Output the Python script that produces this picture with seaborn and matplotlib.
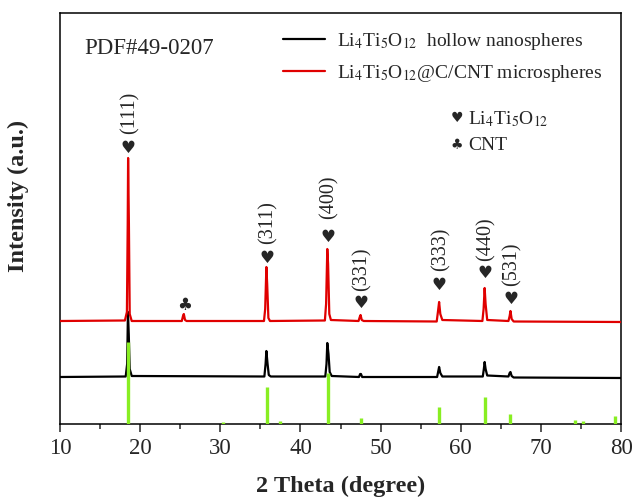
import pandas as pd
import matplotlib
matplotlib.use('Agg')
import matplotlib.pyplot as plt
import seaborn as sns

# XRD curves (2theta, intensity in arbitrary units)
red_x = [10.0, 18.1, 18.35, 18.45, 18.5, 18.6, 18.7, 18.95, 25.2, 25.35, 25.45, 25.6, 25.8,
         35.45, 35.6, 35.75, 35.85, 36.0, 36.2, 43.05, 43.2, 43.35, 43.45, 43.6, 43.8,
         47.25, 47.4, 47.5, 47.65, 47.9, 57.0, 57.15, 57.3, 57.45, 57.7,
         62.7, 62.85, 62.98, 63.1, 63.3, 65.95, 66.1, 66.2, 66.35, 66.6, 80.0]
red_y = [103, 103.5, 112, 200, 266, 200, 110, 103, 103, 108, 110, 104, 103,
         103, 115, 157, 140, 106, 103, 103.5, 120, 175, 160, 110, 104,
         103, 107, 109, 104, 103, 102.5, 112, 122, 110, 104,
         103, 115, 136, 120, 104, 103, 108, 113, 105, 102.5, 102]

black_x = [10.0, 18.2, 18.38, 18.48, 18.58, 18.7, 18.95, 35.5, 35.65, 35.75, 35.9, 36.05, 36.3,
           43.1, 43.25, 43.35, 43.5, 43.65, 43.9, 47.3, 47.45, 47.55, 47.7,
           57.05, 57.2, 57.3, 57.45, 57.7, 62.75, 62.88, 62.98, 63.1, 63.3,
           65.95, 66.1, 66.2, 66.35, 66.6, 80.0]
black_y = [47, 47.5, 60, 112, 90, 55, 48, 47.5, 60, 73, 60, 49, 47.5,
           47.5, 60, 81, 70, 52, 48, 47, 50, 50, 47,
           47, 53, 57, 51, 47.5, 47.5, 55, 62, 55, 48.5,
           47.5, 51, 52, 48, 46.5, 46]

# reference card PDF#49-0207
ref_pos = [18.5, 30.4, 35.8, 37.4, 43.4, 47.5, 57.3, 63.0, 66.2, 74.3, 75.3, 79.3]
ref_int = [82, 2, 37, 3, 51, 6, 17, 27, 10, 4, 3, 8]

hkl_labels = ['(111)', '(311)', '(400)', '(331)', '(333)', '(440)', '(531)']
hkl_pos = [18.5, 35.8, 43.4, 47.5, 57.3, 63.0, 66.2]
heart_y = [276, 166, 187, 121, 139, 151, 125]
label_y = [311, 201, 227, 155, 175, 185, 160]

sns.set_style('ticks')
plt.rcParams['font.family'] = ['Liberation Serif', 'DejaVu Sans']
plt.rcParams['mathtext.fontset'] = 'stix'

fig = plt.figure(figsize=(6.34, 5.0), dpi=100)
ax = fig.add_axes([0.0946, 0.152, 0.885, 0.822])

lto = pd.DataFrame({'x': black_x, 'y': black_y})
lcc = pd.DataFrame({'x': red_x, 'y': red_y})
sns.lineplot(data=lto, x='x', y='y', color='black', lw=1.6, sort=False, estimator=None,
             label=r'Li$_4$Ti$_5$O$_{12}$  hollow nanospheres', ax=ax, zorder=2)
sns.lineplot(data=lcc, x='x', y='y', color='#e00000', lw=1.6, sort=False, estimator=None,
             label=r'Li$_4$Ti$_5$O$_{12}$@C/CNT microspheres', ax=ax, zorder=3)
ax.vlines(ref_pos, 0, ref_int, color='#88ee22', lw=2.4, zorder=4)

sym_font = ['DejaVu Sans', 'Liberation Serif']
for x, lab, hy, ly in zip(hkl_pos, hkl_labels, heart_y, label_y):
    ax.text(x, hy, '\u2665', ha='center', va='center', fontsize=12, family=sym_font)
    ax.text(x + 0.2, ly, lab, ha='center', va='center', rotation=90, fontsize=14.5)
ax.text(25.5, 119, '\u2663', ha='center', va='center', fontsize=12, family=sym_font)

ax.text(13.0, 376, 'PDF#49-0207', ha='left', va='center', fontsize=16.5)
ax.text(59.5, 306, '\u2665', ha='center', va='center', fontsize=10, family=sym_font)
ax.text(60.9, 305, r'Li$_4$Ti$_5$O$_{12}$', ha='left', va='center', fontsize=14)
ax.text(59.5, 279, '\u2663', ha='center', va='center', fontsize=10, family=sym_font)
ax.text(60.9, 279, 'CNT', ha='left', va='center', fontsize=14)

ax.legend(loc='upper left', bbox_to_anchor=(0.383, 0.975), frameon=False, fontsize=14,
          handlelength=2.2, handletextpad=0.6, labelspacing=0.55, borderaxespad=0)

ax.set_xlim(10, 80)
ax.set_ylim(0, 411)
ax.set_xticks(range(10, 81, 10))
ax.set_xticks(range(15, 80, 10), minor=True)
ax.set_yticks([])
ax.tick_params(axis='x', which='major', length=6, width=1.1, labelsize=16.5, direction='out', pad=4)
ax.tick_params(axis='x', which='minor', length=3.5, width=1.1, direction='out')
for s in ax.spines.values():
    s.set_visible(True)
    s.set_linewidth(1.1)
    s.set_color('black')
ax.set_xlabel('2 Theta (degree)', fontsize=17.5, fontweight='bold', labelpad=12)
ax.set_ylabel('Intensity (a.u.)', fontsize=17.5, fontweight='bold')
ax.yaxis.set_label_coords(-0.056, 0.555)

fig.savefig('out.png', dpi=100)
